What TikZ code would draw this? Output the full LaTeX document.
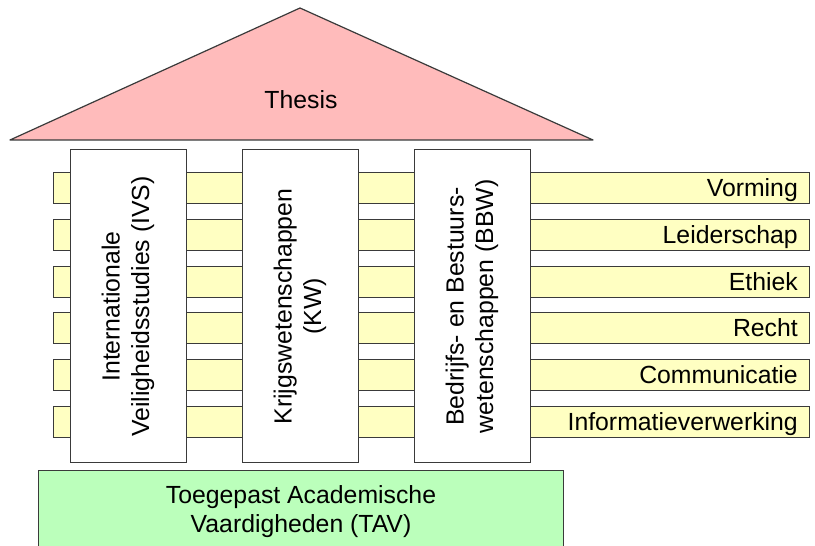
\documentclass[tikz,border=0pt]{standalone}
\usepackage{fontspec}
\setmainfont{Liberation Sans}
\definecolor{roofpink}{HTML}{FFBBBB}
\definecolor{beamyellow}{HTML}{FFFFC2}
\definecolor{basegreen}{HTML}{BBFFBB}
\definecolor{edgegray}{HTML}{3A3A3A}

\begin{document}
\begin{tikzpicture}[x=1pt, y=1pt,
  font=\fontsize{24.8}{29.5}\selectfont,
  pillar/.style={draw=edgegray, fill=white, line width=1pt, rotate=90,
    minimum width=313, minimum height=116, align=center, inner sep=0pt},
  beam/.style={draw=edgegray, fill=beamyellow, line width=1pt}]
  \useasboundingbox (0,0) rectangle (815,546);
  \fill[white] (0,0) rectangle (815,546);

  % roof
  \filldraw[fill=roofpink, draw=edgegray, line width=1.2pt, line join=round]
    (10,406) -- (300,538) -- (593,406) -- cycle;
  \node (thesis) at (301,446) {Thesis};

  % beams
  \foreach \y/\txt [count=\i] in {373/Vorming, 326/Leiderschap, 279/Ethiek,
      233/Recht, 186/Communicatie, 139/Informatieverwerking} {
    \filldraw[beam] (53,\y) rectangle (809,\y-31);
    \node[anchor=base east, inner sep=0pt] (vak\i) at (798,\y-24) {\txt};
  }

  % pillars
  \node[pillar] (ivs) at (128,239.5) {Internationale\\Veiligheidsstudies (IVS)};
  \node[pillar] (kw) at (300,239.5) {Krijgswetenschappen\\(KW)};
  \node[pillar] (bbw) at (472,239.5) {Bedrijfs- en Bestuurs-\\wetenschappen (BBW)};

  % foundation
  \node[draw=edgegray, fill=basegreen, line width=1pt, anchor=north west,
    minimum width=525, minimum height=82, align=center] (tav) at (38,76)
    {Toegepast Academische\\Vaardigheden (TAV)};
\end{tikzpicture}
\end{document}
